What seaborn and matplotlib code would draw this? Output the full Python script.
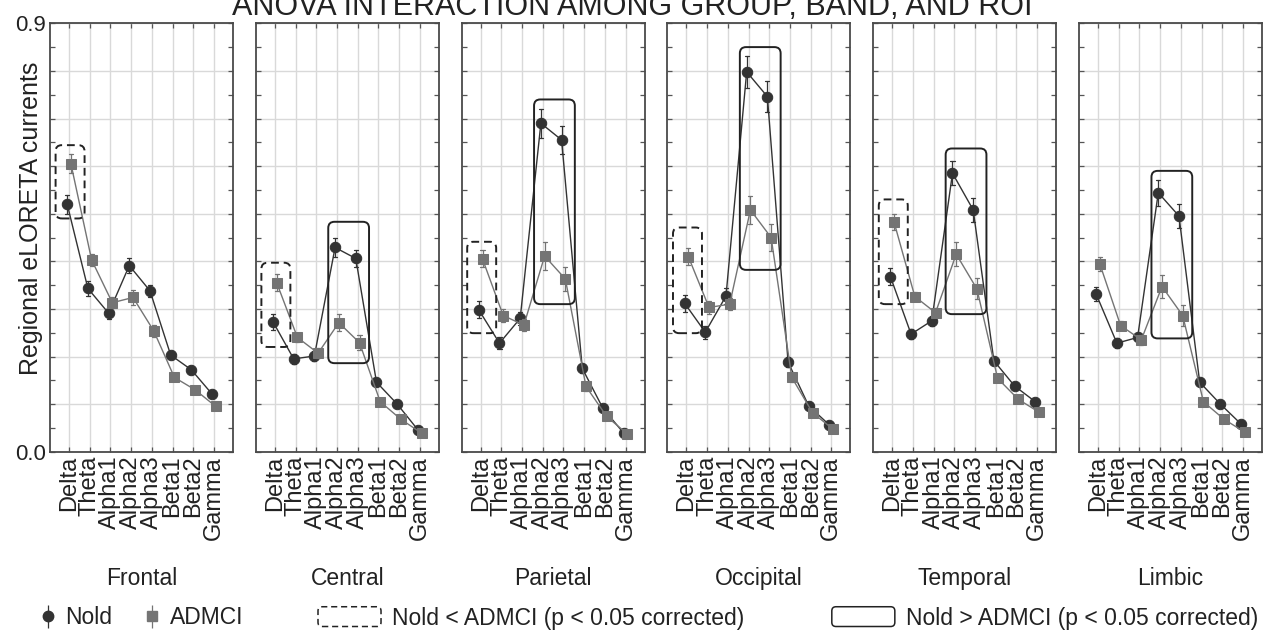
import numpy as np
import pandas as pd
import matplotlib
matplotlib.use("Agg")
import matplotlib.pyplot as plt
import seaborn as sns
from matplotlib.patches import FancyBboxPatch
from matplotlib.legend_handler import HandlerPatch
from matplotlib.ticker import MultipleLocator

# data
bands = ["Delta", "Theta", "Alpha1", "Alpha2", "Alpha3", "Beta1", "Beta2", "Gamma"]
regions = ["Frontal", "Central", "Parietal", "Occipital", "Temporal", "Limbic"]
groups = ["Nold", "ADMCI"]

nold = {
    "Frontal":   [0.520, 0.343, 0.291, 0.391, 0.338, 0.203, 0.172, 0.121],
    "Central":   [0.273, 0.195, 0.201, 0.429, 0.406, 0.146, 0.100, 0.046],
    "Parietal":  [0.298, 0.228, 0.280, 0.690, 0.655, 0.175, 0.091, 0.039],
    "Occipital": [0.312, 0.251, 0.327, 0.798, 0.746, 0.188, 0.096, 0.056],
    "Temporal":  [0.368, 0.247, 0.275, 0.585, 0.508, 0.191, 0.138, 0.105],
    "Limbic":    [0.331, 0.228, 0.240, 0.544, 0.495, 0.146, 0.100, 0.058],
}
nold_se = {
    "Frontal":   [0.020, 0.015, 0.012, 0.015, 0.013, 0.008, 0.008, 0.007],
    "Central":   [0.017, 0.010, 0.010, 0.020, 0.018, 0.007, 0.006, 0.005],
    "Parietal":  [0.018, 0.012, 0.014, 0.030, 0.030, 0.010, 0.007, 0.005],
    "Occipital": [0.018, 0.014, 0.016, 0.033, 0.032, 0.010, 0.008, 0.006],
    "Temporal":  [0.017, 0.010, 0.010, 0.025, 0.025, 0.008, 0.006, 0.005],
    "Limbic":    [0.015, 0.010, 0.010, 0.027, 0.026, 0.007, 0.006, 0.005],
}
admci = {
    "Frontal":   [0.605, 0.403, 0.313, 0.324, 0.254, 0.156, 0.130, 0.095],
    "Central":   [0.355, 0.240, 0.207, 0.271, 0.229, 0.105, 0.068, 0.039],
    "Parietal":  [0.405, 0.286, 0.266, 0.411, 0.363, 0.137, 0.074, 0.037],
    "Occipital": [0.410, 0.303, 0.310, 0.508, 0.450, 0.156, 0.082, 0.047],
    "Temporal":  [0.482, 0.326, 0.292, 0.415, 0.342, 0.154, 0.110, 0.083],
    "Limbic":    [0.394, 0.265, 0.235, 0.347, 0.286, 0.105, 0.068, 0.041],
}
admci_se = {
    "Frontal":   [0.020, 0.013, 0.012, 0.015, 0.013, 0.008, 0.008, 0.007],
    "Central":   [0.018, 0.010, 0.010, 0.018, 0.016, 0.006, 0.006, 0.005],
    "Parietal":  [0.018, 0.013, 0.012, 0.030, 0.025, 0.010, 0.007, 0.005],
    "Occipital": [0.018, 0.013, 0.012, 0.030, 0.028, 0.010, 0.008, 0.006],
    "Temporal":  [0.017, 0.010, 0.010, 0.025, 0.022, 0.008, 0.006, 0.005],
    "Limbic":    [0.015, 0.010, 0.010, 0.025, 0.022, 0.007, 0.006, 0.005],
}

# significant clusters: region, kind, first band, last band, low, high
clusters = [
    ("Frontal", "lt", "Delta", "Delta", 0.490, 0.644),
    ("Central", "lt", "Delta", "Delta", 0.220, 0.397),
    ("Central", "gt", "Alpha2", "Alpha3", 0.186, 0.483),
    ("Parietal", "lt", "Delta", "Delta", 0.249, 0.441),
    ("Parietal", "gt", "Alpha2", "Alpha3", 0.310, 0.740),
    ("Occipital", "lt", "Delta", "Delta", 0.249, 0.471),
    ("Occipital", "gt", "Alpha2", "Alpha3", 0.382, 0.850),
    ("Temporal", "lt", "Delta", "Delta", 0.310, 0.530),
    ("Temporal", "gt", "Alpha2", "Alpha3", 0.289, 0.637),
    ("Limbic", "gt", "Alpha2", "Alpha3", 0.238, 0.590),
]
cluster_labels = {"lt": "Nold < ADMCI (p < 0.05 corrected)",
                  "gt": "Nold > ADMCI (p < 0.05 corrected)"}

title = "ANOVA INTERACTION AMONG GROUP, BAND, AND ROI"
ylabel = "Regional eLORETA currents"
ytick_labels = ["0.0", "", "", "", "", "", "", "", "", "0.9"]

# long table, one row at mean-se and one at mean+se so the
# pointplot error bar spans exactly the reported s.e.
rows = []
for r in regions:
    for g, means, ses in (("Nold", nold[r], nold_se[r]), ("ADMCI", admci[r], admci_se[r])):
        for b, m, s in zip(bands, means, ses):
            rows.append({"region": r, "group": g, "band": b, "value": m - s})
            rows.append({"region": r, "group": g, "band": b, "value": m + s})
df = pd.DataFrame(rows)

sns.set_theme(style="whitegrid")
plt.rcParams["font.family"] = ["Liberation Sans", "DejaVu Sans"]
plt.rcParams["text.color"] = "#222222"

palette = {"Nold": "#333333", "ADMCI": "#747474"}
box_style = {"lt": (0, (4, 2.5)), "gt": "-"}
box_pad = {"lt": (0.65, 0.75), "gt": (0.42, 0.55)}

fig = plt.figure(figsize=(12.64, 6.36), dpi=100)
W, H = 1264, 636
top_px, bot_px = 23.3, 451.7
ax_w = 183

axes = []
for i, r in enumerate(regions):
    left = 50 + i * 205.8
    ax = fig.add_axes([left / W, 1 - bot_px / H, ax_w / W, (bot_px - top_px) / H])
    axes.append(ax)
    sns.pointplot(data=df[df.region == r], x="band", y="value", hue="group",
                  order=bands, hue_order=groups, palette=palette,
                  markers=["o", "s"], linestyles=["-", "-"], dodge=0.18,
                  errorbar=lambda v: (v.min(), v.max()), capsize=0.2,
                  err_kws={"linewidth": 0.9}, markersize=7.5, linewidth=1.0,
                  legend=False, ax=ax)

    ax.set_xlim(-0.92, 7.92)
    ax.set_ylim(0, 0.9)
    ax.set_xticks(range(len(bands)))
    ax.set_xticklabels(bands, rotation=90, fontsize=17, color="#222222")
    ax.set_yticks(np.arange(0, 0.91, 0.1))
    ax.yaxis.set_minor_locator(MultipleLocator(0.05))
    if i == 0:
        ax.set_yticklabels(ytick_labels, fontsize=16, color="#222222")
    else:
        ax.set_yticklabels([])
    ax.set_xlabel("")
    ax.set_ylabel("")
    ax.grid(True, which="major", color="#d9d9d9", linewidth=1)
    ax.set_axisbelow(True)
    ax.tick_params(which="both", direction="in", length=3.5, width=0.9, color="#555555",
                   top=True, right=True, bottom=True, left=True, pad=3)
    ax.tick_params(axis="x", which="minor", length=0)
    for sp in ax.spines.values():
        sp.set_color("#4a4a4a")
        sp.set_linewidth(1.3)
    ax.text(0.5, -0.295, r, transform=ax.transAxes, ha="center", va="center",
            fontsize=16.5)

# cluster boxes
asp = (0.1 / 47.6) / (1 / 20.7)
for r, kind, b0, b1, lo, hi in clusters:
    ax = axes[regions.index(r)]
    pl, pr = box_pad[kind]
    x0 = bands.index(b0) - pl
    x1 = bands.index(b1) + pr
    ax.add_patch(FancyBboxPatch((x0, lo), x1 - x0, hi - lo,
                                boxstyle="round,pad=0,rounding_size=0.3",
                                mutation_aspect=asp, fill=False,
                                edgecolor="#222222", linewidth=1.4,
                                linestyle=box_style[kind], zorder=5))

fig.text(31 / W, 1 - 218 / H, ylabel, rotation=90, ha="center", va="center",
         fontsize=18)
fig.text(0.5, 1 - 15 / H, title, ha="center", va="baseline", fontsize=22)

# legend for the groups: marker with error bar
eb_handles = []
for g, m in zip(groups, ["o", "s"]):
    eb = axes[-1].errorbar([], [], yerr=[], fmt=m, color=palette[g], markersize=7.5,
                           capsize=2.5, elinewidth=0.9, capthick=0.9)
    eb_handles.append(eb)
fig.legend(eb_handles, groups, loc="center left", bbox_to_anchor=(40 / W, 1 - 618 / H),
           ncol=2, frameon=False, fontsize=16.5, handlelength=0.7,
           handletextpad=0.4, columnspacing=1.4, borderaxespad=0, borderpad=0)


def round_box(legend, orig_handle, xdescent, ydescent, width, height, fontsize):
    return FancyBboxPatch((-xdescent, -ydescent), width, height,
                          boxstyle="round,pad=0,rounding_size=3")


box_handles = [FancyBboxPatch((0, 0), 1, 1, fill=False, edgecolor="#222222",
                              linewidth=1.1, linestyle=box_style[k]) for k in ["lt", "gt"]]
fig.legend(box_handles, [cluster_labels["lt"], cluster_labels["gt"]],
           handler_map={FancyBboxPatch: HandlerPatch(patch_func=round_box)},
           loc="center left", bbox_to_anchor=(318 / W, 1 - 618 / H),
           ncol=2, frameon=False, fontsize=16.5, handlelength=2.75, handleheight=0.95,
           handletextpad=0.5, columnspacing=3.8, borderaxespad=0, borderpad=0)

fig.savefig("out.png", dpi=100)
